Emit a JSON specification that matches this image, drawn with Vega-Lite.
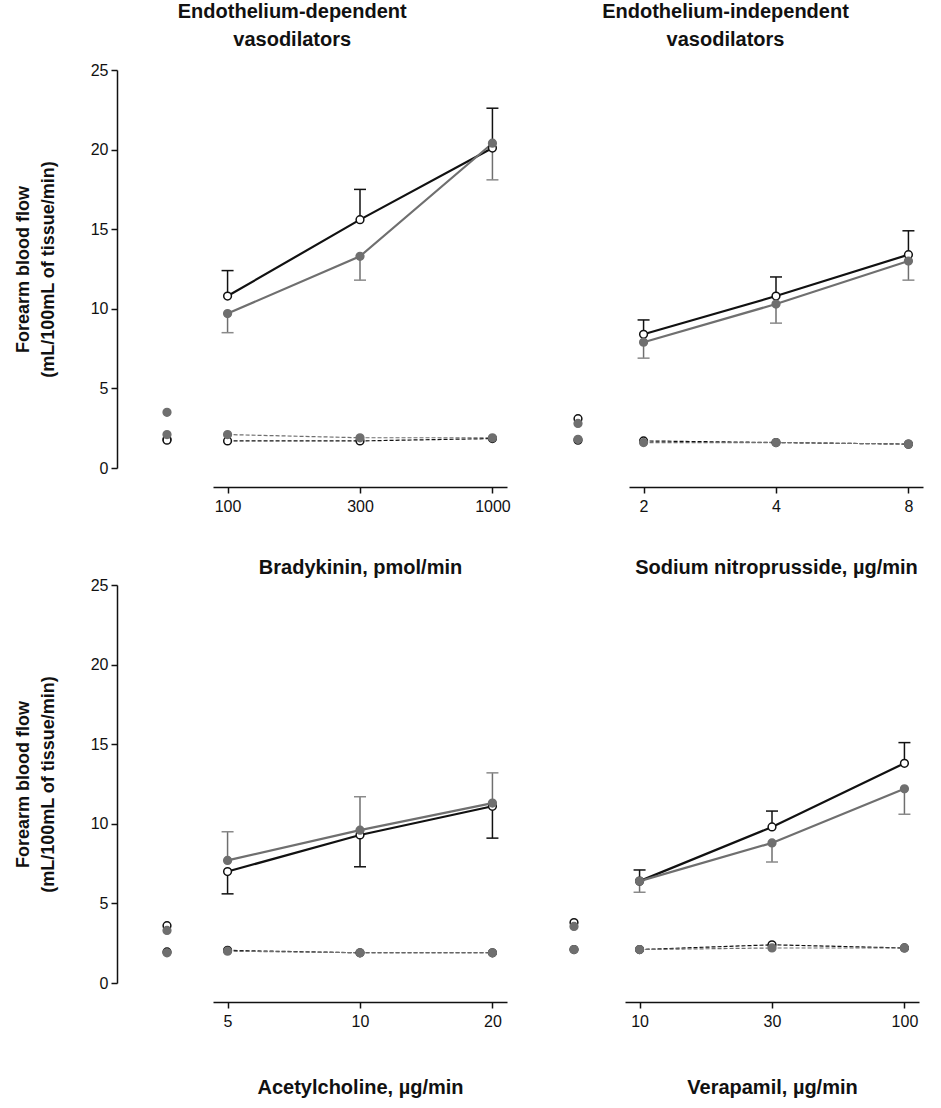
{
  "$schema": "https://vega.github.io/schema/vega-lite/v6.json",
  "padding": {"left": 14, "top": 2, "right": 5, "bottom": 5},
  "background": "white",
  "config": {
    "font": "Liberation Sans",
    "view": {"stroke": null},
    "axis": {"domainColor": "#111", "domainWidth": 1.5, "tickColor": "#111", "tickWidth": 1.5, "tickSize": 6, "labelFont": "Liberation Sans", "labelFontSize": 16, "labelColor": "#111", "titleFont": "Liberation Sans", "titleFontSize": 20, "titleFontWeight": "bold", "titleColor": "#111", "grid": false},
    "title": {"font": "Liberation Sans", "fontSize": 20, "fontWeight": "bold", "color": "#111", "lineHeight": 28, "anchor": "middle"}
  },
  "datasets": {
    "base": [
      {"panel": "BK", "arm": "inf", "group": "A", "value": 1.8},
      {"panel": "BK", "arm": "ctl", "group": "A", "value": 1.75},
      {"panel": "BK", "arm": "inf", "group": "B", "value": 3.5},
      {"panel": "BK", "arm": "ctl", "group": "B", "value": 2.1},
      {"panel": "SNP", "arm": "inf", "group": "A", "value": 3.1},
      {"panel": "SNP", "arm": "ctl", "group": "A", "value": 1.75},
      {"panel": "SNP", "arm": "inf", "group": "B", "value": 2.8},
      {"panel": "SNP", "arm": "ctl", "group": "B", "value": 1.8},
      {"panel": "ACh", "arm": "inf", "group": "A", "value": 3.6},
      {"panel": "ACh", "arm": "ctl", "group": "A", "value": 1.95},
      {"panel": "ACh", "arm": "inf", "group": "B", "value": 3.3},
      {"panel": "ACh", "arm": "ctl", "group": "B", "value": 1.9},
      {"panel": "VER", "arm": "inf", "group": "A", "value": 3.8},
      {"panel": "VER", "arm": "ctl", "group": "A", "value": 2.1},
      {"panel": "VER", "arm": "inf", "group": "B", "value": 3.55},
      {"panel": "VER", "arm": "ctl", "group": "B", "value": 2.1}
    ],
    "dose": [
      {"panel": "BK", "arm": "inf", "group": "A", "dose": "100", "value": 10.8, "err": 12.4},
      {"panel": "BK", "arm": "inf", "group": "A", "dose": "300", "value": 15.6, "err": 17.5},
      {"panel": "BK", "arm": "inf", "group": "A", "dose": "1000", "value": 20.1, "err": 22.6},
      {"panel": "BK", "arm": "inf", "group": "B", "dose": "100", "value": 9.7, "err": 8.5},
      {"panel": "BK", "arm": "inf", "group": "B", "dose": "300", "value": 13.3, "err": 11.8},
      {"panel": "BK", "arm": "inf", "group": "B", "dose": "1000", "value": 20.4, "err": 18.1},
      {"panel": "BK", "arm": "ctl", "group": "A", "dose": "100", "value": 1.7},
      {"panel": "BK", "arm": "ctl", "group": "A", "dose": "300", "value": 1.7},
      {"panel": "BK", "arm": "ctl", "group": "A", "dose": "1000", "value": 1.85},
      {"panel": "BK", "arm": "ctl", "group": "B", "dose": "100", "value": 2.1},
      {"panel": "BK", "arm": "ctl", "group": "B", "dose": "300", "value": 1.9},
      {"panel": "BK", "arm": "ctl", "group": "B", "dose": "1000", "value": 1.9},
      {"panel": "SNP", "arm": "inf", "group": "A", "dose": "2", "value": 8.4, "err": 9.3},
      {"panel": "SNP", "arm": "inf", "group": "A", "dose": "4", "value": 10.8, "err": 12.0},
      {"panel": "SNP", "arm": "inf", "group": "A", "dose": "8", "value": 13.4, "err": 14.9},
      {"panel": "SNP", "arm": "inf", "group": "B", "dose": "2", "value": 7.9, "err": 6.9},
      {"panel": "SNP", "arm": "inf", "group": "B", "dose": "4", "value": 10.3, "err": 9.1},
      {"panel": "SNP", "arm": "inf", "group": "B", "dose": "8", "value": 13.0, "err": 11.8},
      {"panel": "SNP", "arm": "ctl", "group": "A", "dose": "2", "value": 1.7},
      {"panel": "SNP", "arm": "ctl", "group": "A", "dose": "4", "value": 1.6},
      {"panel": "SNP", "arm": "ctl", "group": "A", "dose": "8", "value": 1.5},
      {"panel": "SNP", "arm": "ctl", "group": "B", "dose": "2", "value": 1.6},
      {"panel": "SNP", "arm": "ctl", "group": "B", "dose": "4", "value": 1.6},
      {"panel": "SNP", "arm": "ctl", "group": "B", "dose": "8", "value": 1.5},
      {"panel": "ACh", "arm": "inf", "group": "A", "dose": "5", "value": 7.0, "err": 5.6},
      {"panel": "ACh", "arm": "inf", "group": "A", "dose": "10", "value": 9.3, "err": 7.3},
      {"panel": "ACh", "arm": "inf", "group": "A", "dose": "20", "value": 11.1, "err": 9.1},
      {"panel": "ACh", "arm": "inf", "group": "B", "dose": "5", "value": 7.7, "err": 9.5},
      {"panel": "ACh", "arm": "inf", "group": "B", "dose": "10", "value": 9.6, "err": 11.7},
      {"panel": "ACh", "arm": "inf", "group": "B", "dose": "20", "value": 11.3, "err": 13.2},
      {"panel": "ACh", "arm": "ctl", "group": "A", "dose": "5", "value": 2.05},
      {"panel": "ACh", "arm": "ctl", "group": "A", "dose": "10", "value": 1.9},
      {"panel": "ACh", "arm": "ctl", "group": "A", "dose": "20", "value": 1.9},
      {"panel": "ACh", "arm": "ctl", "group": "B", "dose": "5", "value": 2.0},
      {"panel": "ACh", "arm": "ctl", "group": "B", "dose": "10", "value": 1.9},
      {"panel": "ACh", "arm": "ctl", "group": "B", "dose": "20", "value": 1.9},
      {"panel": "VER", "arm": "inf", "group": "A", "dose": "10", "value": 6.4, "err": 7.1},
      {"panel": "VER", "arm": "inf", "group": "A", "dose": "30", "value": 9.8, "err": 10.8},
      {"panel": "VER", "arm": "inf", "group": "A", "dose": "100", "value": 13.8, "err": 15.1},
      {"panel": "VER", "arm": "inf", "group": "B", "dose": "10", "value": 6.4, "err": 5.7},
      {"panel": "VER", "arm": "inf", "group": "B", "dose": "30", "value": 8.8, "err": 7.6},
      {"panel": "VER", "arm": "inf", "group": "B", "dose": "100", "value": 12.2, "err": 10.6},
      {"panel": "VER", "arm": "ctl", "group": "A", "dose": "10", "value": 2.1},
      {"panel": "VER", "arm": "ctl", "group": "A", "dose": "30", "value": 2.4},
      {"panel": "VER", "arm": "ctl", "group": "A", "dose": "100", "value": 2.2},
      {"panel": "VER", "arm": "ctl", "group": "B", "dose": "10", "value": 2.1},
      {"panel": "VER", "arm": "ctl", "group": "B", "dose": "30", "value": 2.2},
      {"panel": "VER", "arm": "ctl", "group": "B", "dose": "100", "value": 2.2}
    ]
  },
  "spacing": 0,
  "vconcat": [
    {
      "spacing": 47,
      "hconcat": [
        {
          "title": {"text": ["Endothelium-dependent", "vasodilators"], "dx": 30, "offset": 12},
          "spacing": 26,
          "hconcat": [
            {
              "width": 40, "height": 398,
              "data": {"name": "base"},
              "transform": [{"filter": "datum.panel === 'BK'"}],
              "mark": {"type": "point", "filled": true, "opacity": 1, "size": 60, "strokeWidth": 1.5},
              "encoding": {
                "y": {"field": "value", "type": "quantitative", "scale": {"domain": [0, 25], "nice": false}, "axis": {"values": [0, 5, 10, 15, 20, 25], "offset": 30, "labelPadding": 3, "title": ["Forearm blood flow", "(mL/100mL of tissue/min)"], "titleFontSize": 18, "titlePadding": 33, "titleLineHeight": 25}},
                "fill": {"field": "group", "type": "nominal", "scale": {"domain": ["A", "B"], "range": ["white", "#6f6f6f"]}, "legend": null},
                "stroke": {"field": "group", "type": "nominal", "scale": {"domain": ["A", "B"], "range": ["#111", "#6f6f6f"]}, "legend": null}
              }
            },
            {
              "width": 294, "height": 398,
              "data": {"name": "dose"},
              "transform": [{"filter": "datum.panel === 'BK'"}],
              "encoding": {
                "x": {"field": "dose", "type": "ordinal", "scale": {"type": "point", "domain": ["100", "300", "1000"], "padding": 0.11}, "axis": {"title": "Bradykinin, pmol/min", "labelAngle": 0, "offset": 19, "labelPadding": 5, "titlePadding": 43}}
              },
              "layer": [
                {"transform": [{"filter": "isValid(datum.err)"}], "mark": {"type": "rule", "strokeWidth": 1.5}, "encoding": {"y": {"field": "value", "type": "quantitative", "scale": {"domain": [0, 25], "nice": false}, "axis": null}, "y2": {"field": "err"}, "stroke": {"field": "group", "type": "nominal", "scale": {"domain": ["B", "A"], "range": ["#8a8a8a", "#111"]}, "legend": null}}},
                {"transform": [{"filter": "isValid(datum.err)"}], "mark": {"type": "tick", "thickness": 1.5, "size": 12, "opacity": 1}, "encoding": {"y": {"field": "err", "type": "quantitative"}, "color": {"field": "group", "type": "nominal", "scale": {"domain": ["B", "A"], "range": ["#8a8a8a", "#111"]}, "legend": null}}},
                {"transform": [{"filter": "datum.arm === 'ctl'"}], "mark": {"type": "line", "strokeWidth": 1.2, "strokeDash": [4, 2]}, "encoding": {"y": {"field": "value", "type": "quantitative"}, "stroke": {"field": "group", "type": "nominal", "scale": {"domain": ["B", "A"], "range": ["#8a8a8a", "#111"]}, "legend": null}}},
                {"transform": [{"filter": "datum.arm === 'inf'"}], "mark": {"type": "line", "strokeWidth": 2.2}, "encoding": {"y": {"field": "value", "type": "quantitative"}, "stroke": {"field": "group", "type": "nominal", "scale": {"domain": ["B", "A"], "range": ["#8a8a8a", "#111"]}, "legend": null}}},
                {"mark": {"type": "point", "filled": true, "opacity": 1, "size": 60, "strokeWidth": 1.5}, "encoding": {"y": {"field": "value", "type": "quantitative"}, "fill": {"field": "group", "type": "nominal", "scale": {"domain": ["A", "B"], "range": ["white", "#6f6f6f"]}, "legend": null}, "stroke": {"field": "group", "type": "nominal", "scale": {"domain": ["B", "A"], "range": ["#6f6f6f", "#111"]}, "legend": null}}}
              ]
            }
          ]
        },
        {
          "title": {"text": ["Endothelium-independent", "vasodilators"], "dx": -15, "offset": 20},
          "spacing": 31,
          "hconcat": [
            {
              "width": 40, "height": 398,
              "data": {"name": "base"},
              "transform": [{"filter": "datum.panel === 'SNP'"}],
              "mark": {"type": "point", "filled": true, "opacity": 1, "size": 60, "strokeWidth": 1.5},
              "encoding": {
                "y": {"field": "value", "type": "quantitative", "scale": {"domain": [0, 25], "nice": false}, "axis": null},
                "fill": {"field": "group", "type": "nominal", "scale": {"domain": ["A", "B"], "range": ["white", "#6f6f6f"]}, "legend": null},
                "stroke": {"field": "group", "type": "nominal", "scale": {"domain": ["A", "B"], "range": ["#111", "#6f6f6f"]}, "legend": null}
              }
            },
            {
              "width": 294, "height": 398,
              "data": {"name": "dose"},
              "transform": [{"filter": "datum.panel === 'SNP'"}],
              "encoding": {
                "x": {"field": "dose", "type": "ordinal", "scale": {"type": "point", "domain": ["2", "4", "8"], "padding": 0.11}, "axis": {"title": "Sodium nitroprusside, µg/min", "labelAngle": 0, "offset": 19, "labelPadding": 5, "titlePadding": 43}}
              },
              "layer": [
                {"transform": [{"filter": "isValid(datum.err)"}], "mark": {"type": "rule", "strokeWidth": 1.5}, "encoding": {"y": {"field": "value", "type": "quantitative", "scale": {"domain": [0, 25], "nice": false}, "axis": null}, "y2": {"field": "err"}, "stroke": {"field": "group", "type": "nominal", "scale": {"domain": ["B", "A"], "range": ["#8a8a8a", "#111"]}, "legend": null}}},
                {"transform": [{"filter": "isValid(datum.err)"}], "mark": {"type": "tick", "thickness": 1.5, "size": 12, "opacity": 1}, "encoding": {"y": {"field": "err", "type": "quantitative"}, "color": {"field": "group", "type": "nominal", "scale": {"domain": ["B", "A"], "range": ["#8a8a8a", "#111"]}, "legend": null}}},
                {"transform": [{"filter": "datum.arm === 'ctl'"}], "mark": {"type": "line", "strokeWidth": 1.2, "strokeDash": [4, 2]}, "encoding": {"y": {"field": "value", "type": "quantitative"}, "stroke": {"field": "group", "type": "nominal", "scale": {"domain": ["B", "A"], "range": ["#8a8a8a", "#111"]}, "legend": null}}},
                {"transform": [{"filter": "datum.arm === 'inf'"}], "mark": {"type": "line", "strokeWidth": 2.2}, "encoding": {"y": {"field": "value", "type": "quantitative"}, "stroke": {"field": "group", "type": "nominal", "scale": {"domain": ["B", "A"], "range": ["#8a8a8a", "#111"]}, "legend": null}}},
                {"mark": {"type": "point", "filled": true, "opacity": 1, "size": 60, "strokeWidth": 1.5}, "encoding": {"y": {"field": "value", "type": "quantitative"}, "fill": {"field": "group", "type": "nominal", "scale": {"domain": ["A", "B"], "range": ["white", "#6f6f6f"]}, "legend": null}, "stroke": {"field": "group", "type": "nominal", "scale": {"domain": ["B", "A"], "range": ["#6f6f6f", "#111"]}, "legend": null}}}
              ]
            }
          ]
        }
      ]
    },
    {
      "spacing": 47,
      "hconcat": [
        {
          "spacing": 26,
          "hconcat": [
            {
              "width": 40, "height": 398,
              "data": {"name": "base"},
              "transform": [{"filter": "datum.panel === 'ACh'"}],
              "mark": {"type": "point", "filled": true, "opacity": 1, "size": 60, "strokeWidth": 1.5},
              "encoding": {
                "y": {"field": "value", "type": "quantitative", "scale": {"domain": [0, 25], "nice": false}, "axis": {"values": [0, 5, 10, 15, 20, 25], "offset": 30, "labelPadding": 3, "title": ["Forearm blood flow", "(mL/100mL of tissue/min)"], "titleFontSize": 18, "titlePadding": 33, "titleLineHeight": 25}},
                "fill": {"field": "group", "type": "nominal", "scale": {"domain": ["A", "B"], "range": ["white", "#6f6f6f"]}, "legend": null},
                "stroke": {"field": "group", "type": "nominal", "scale": {"domain": ["A", "B"], "range": ["#111", "#6f6f6f"]}, "legend": null}
              }
            },
            {
              "width": 294, "height": 398,
              "data": {"name": "dose"},
              "transform": [{"filter": "datum.panel === 'ACh'"}],
              "encoding": {
                "x": {"field": "dose", "type": "ordinal", "scale": {"type": "point", "domain": ["5", "10", "20"], "padding": 0.11}, "axis": {"title": "Acetylcholine, µg/min", "labelAngle": 0, "offset": 19, "labelPadding": 5, "titlePadding": 48}}
              },
              "layer": [
                {"transform": [{"filter": "isValid(datum.err)"}], "mark": {"type": "rule", "strokeWidth": 1.5}, "encoding": {"y": {"field": "value", "type": "quantitative", "scale": {"domain": [0, 25], "nice": false}, "axis": null}, "y2": {"field": "err"}, "stroke": {"field": "group", "type": "nominal", "scale": {"domain": ["B", "A"], "range": ["#8a8a8a", "#111"]}, "legend": null}}},
                {"transform": [{"filter": "isValid(datum.err)"}], "mark": {"type": "tick", "thickness": 1.5, "size": 12, "opacity": 1}, "encoding": {"y": {"field": "err", "type": "quantitative"}, "color": {"field": "group", "type": "nominal", "scale": {"domain": ["B", "A"], "range": ["#8a8a8a", "#111"]}, "legend": null}}},
                {"transform": [{"filter": "datum.arm === 'ctl'"}], "mark": {"type": "line", "strokeWidth": 1.2, "strokeDash": [4, 2]}, "encoding": {"y": {"field": "value", "type": "quantitative"}, "stroke": {"field": "group", "type": "nominal", "scale": {"domain": ["B", "A"], "range": ["#8a8a8a", "#111"]}, "legend": null}}},
                {"transform": [{"filter": "datum.arm === 'inf'"}], "mark": {"type": "line", "strokeWidth": 2.2}, "encoding": {"y": {"field": "value", "type": "quantitative"}, "stroke": {"field": "group", "type": "nominal", "scale": {"domain": ["B", "A"], "range": ["#8a8a8a", "#111"]}, "legend": null}}},
                {"mark": {"type": "point", "filled": true, "opacity": 1, "size": 60, "strokeWidth": 1.5}, "encoding": {"y": {"field": "value", "type": "quantitative"}, "fill": {"field": "group", "type": "nominal", "scale": {"domain": ["A", "B"], "range": ["white", "#6f6f6f"]}, "legend": null}, "stroke": {"field": "group", "type": "nominal", "scale": {"domain": ["B", "A"], "range": ["#6f6f6f", "#111"]}, "legend": null}}}
              ]
            }
          ]
        },
        {
          "spacing": 31,
          "hconcat": [
            {
              "width": 40, "height": 398,
              "data": {"name": "base"},
              "transform": [{"filter": "datum.panel === 'VER'"}],
              "mark": {"type": "point", "filled": true, "opacity": 1, "size": 60, "strokeWidth": 1.5},
              "encoding": {
                "y": {"field": "value", "type": "quantitative", "scale": {"domain": [0, 25], "nice": false}, "axis": null},
                "fill": {"field": "group", "type": "nominal", "scale": {"domain": ["A", "B"], "range": ["white", "#6f6f6f"]}, "legend": null},
                "stroke": {"field": "group", "type": "nominal", "scale": {"domain": ["A", "B"], "range": ["#111", "#6f6f6f"]}, "legend": null}
              }
            },
            {
              "width": 294, "height": 398,
              "data": {"name": "dose"},
              "transform": [{"filter": "datum.panel === 'VER'"}],
              "encoding": {
                "x": {"field": "dose", "type": "ordinal", "scale": {"type": "point", "domain": ["10", "30", "100"], "padding": 0.11}, "axis": {"title": "Verapamil, µg/min", "labelAngle": 0, "offset": 19, "labelPadding": 5, "titlePadding": 48}}
              },
              "layer": [
                {"transform": [{"filter": "isValid(datum.err)"}], "mark": {"type": "rule", "strokeWidth": 1.5}, "encoding": {"y": {"field": "value", "type": "quantitative", "scale": {"domain": [0, 25], "nice": false}, "axis": null}, "y2": {"field": "err"}, "stroke": {"field": "group", "type": "nominal", "scale": {"domain": ["B", "A"], "range": ["#8a8a8a", "#111"]}, "legend": null}}},
                {"transform": [{"filter": "isValid(datum.err)"}], "mark": {"type": "tick", "thickness": 1.5, "size": 12, "opacity": 1}, "encoding": {"y": {"field": "err", "type": "quantitative"}, "color": {"field": "group", "type": "nominal", "scale": {"domain": ["B", "A"], "range": ["#8a8a8a", "#111"]}, "legend": null}}},
                {"transform": [{"filter": "datum.arm === 'ctl'"}], "mark": {"type": "line", "strokeWidth": 1.2, "strokeDash": [4, 2]}, "encoding": {"y": {"field": "value", "type": "quantitative"}, "stroke": {"field": "group", "type": "nominal", "scale": {"domain": ["B", "A"], "range": ["#8a8a8a", "#111"]}, "legend": null}}},
                {"transform": [{"filter": "datum.arm === 'inf'"}], "mark": {"type": "line", "strokeWidth": 2.2}, "encoding": {"y": {"field": "value", "type": "quantitative"}, "stroke": {"field": "group", "type": "nominal", "scale": {"domain": ["B", "A"], "range": ["#8a8a8a", "#111"]}, "legend": null}}},
                {"mark": {"type": "point", "filled": true, "opacity": 1, "size": 60, "strokeWidth": 1.5}, "encoding": {"y": {"field": "value", "type": "quantitative"}, "fill": {"field": "group", "type": "nominal", "scale": {"domain": ["A", "B"], "range": ["white", "#6f6f6f"]}, "legend": null}, "stroke": {"field": "group", "type": "nominal", "scale": {"domain": ["B", "A"], "range": ["#6f6f6f", "#111"]}, "legend": null}}}
              ]
            }
          ]
        }
      ]
    }
  ]
}
